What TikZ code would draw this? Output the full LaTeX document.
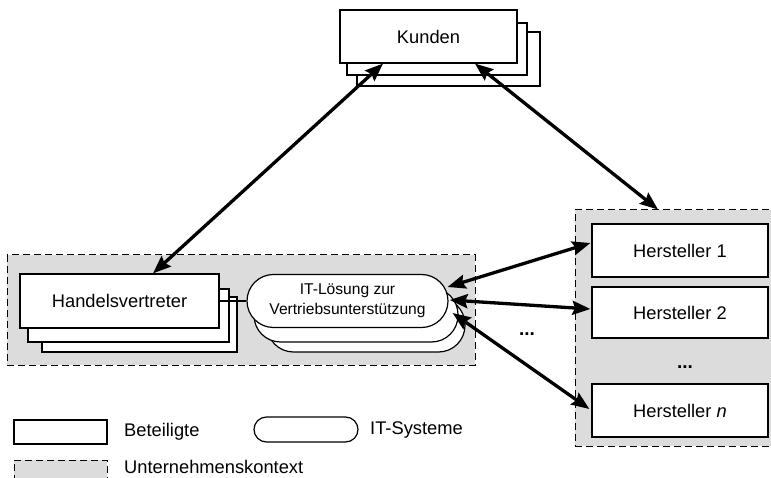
\documentclass[tikz,border=0pt]{standalone}
\usepackage{fontspec}
\setmainfont{Liberation Sans}
\usetikzlibrary{arrows.meta}

\definecolor{ctxgray}{HTML}{DCDCDC}

\tikzset{
  x=1pt, y=-1pt,
  lbl/.style={font=\fontsize{18.3}{21}\selectfont},
  party/.style={draw, fill=white, line width=1.2pt, inner sep=0pt,
                minimum width=#1, minimum height=53pt, lbl},
  party/.default=177pt,
  ghost/.style={draw, fill=white, line width=1.2pt},
  itsys/.style={draw, fill=white, line width=1.2pt, inner sep=0pt,
                rounded corners=26.5pt, minimum width=201pt, minimum height=53pt,
                align=center, font=\fontsize{15.6}{19.5}\selectfont},
  ctx/.style={draw, fill=ctxgray, line width=1pt, dash pattern=on 7pt off 4pt},
  link/.style={line width=3.3pt,
               {Stealth[length=18pt,width=14pt,inset=2.5pt]}-{Stealth[length=18pt,width=14pt,inset=2.5pt]}},
  dots/.style={font=\fontsize{19}{21}\selectfont\bfseries, inner sep=0pt},
  legtext/.style={lbl, anchor=west, inner sep=0pt}
}

\begin{document}
\begin{tikzpicture}
\useasboundingbox (0,0) rectangle (771,478);

% company contexts
\draw[ctx] (7,255) rectangle (475,365);
\node[ctx, inner sep=0pt, minimum width=210pt, minimum height=236pt] (rctx) at (680,328) {};

% Kunden (stacked)
\draw[ghost] (357,32) rectangle (540,86);
\draw[ghost] (347,23) rectangle (527,75);
\node[party] (kunden) at (428.5,36.5) {Kunden};

% Handelsvertreter (stacked)
\draw[ghost] (42,297) rectangle (237,352);
\draw[ghost] (28,289) rectangle (229,342);
\node[party=199pt, minimum height=54pt] (hv) at (119.5,301) {Handelsvertreter};

% IT solution (stacked)
\draw[ghost, rounded corners=26.5pt] (267,298) rectangle (465,352);
\draw[ghost, rounded corners=26.5pt] (254,288) rectangle (458,342);
\node[itsys] (it) at (347.5,301) {IT-Lösung zur\\Vertriebsunterstützung};

\draw[line width=1.2pt] (hv.east) -- (it.west);

% manufacturers
\node[party=176pt] (h1) at (680,250.5) {Hersteller 1};
\node[party=176pt, minimum height=51pt] (h2) at (680,312.5) {Hersteller 2};
\node[party=176pt] (hn) at (680,410.5) {Hersteller \textit{n}};
\node[dots] (dotsr) at (685,367) {...};
\node[dots] (dotsl) at (527,334) {...};

% relations
\draw[link] ([xshift=-45.5pt]kunden.south) -- ([xshift=33.5pt]hv.north);
\draw[link] ([xshift=46.5pt]kunden.south) -- ([xshift=-22pt]rctx.north);
\draw[link] ([xshift=-1pt,yshift=14pt]it.east) -- ([xshift=-1pt,yshift=7.5pt]h1.west);
\draw[link] ([xshift=1pt,yshift=1pt]it.east) -- ([xshift=-1pt,yshift=3.5pt]h2.west);
\draw[link] ([xshift=4pt,yshift=-12pt]it.east) -- ([xshift=-2pt,yshift=1.5pt]hn.west);

% legend
\node[party=93pt, minimum height=24pt] (legparty) at (60.5,432) {};
\node[legtext] (legpartytxt) at (124,432) {Beteiligte};
\node[itsys, minimum width=104pt, minimum height=25pt, rounded corners=12.5pt] (legsys) at (306,429.5) {};
\node[legtext] (legsystxt) at (370,430) {IT-Systeme};
\node[ctx, inner sep=0pt, minimum width=93pt, minimum height=30pt] (legctx) at (60.5,475) {};
\node[legtext] (legctxtxt) at (124,467) {Unternehmenskontext};
\end{tikzpicture}
\end{document}
